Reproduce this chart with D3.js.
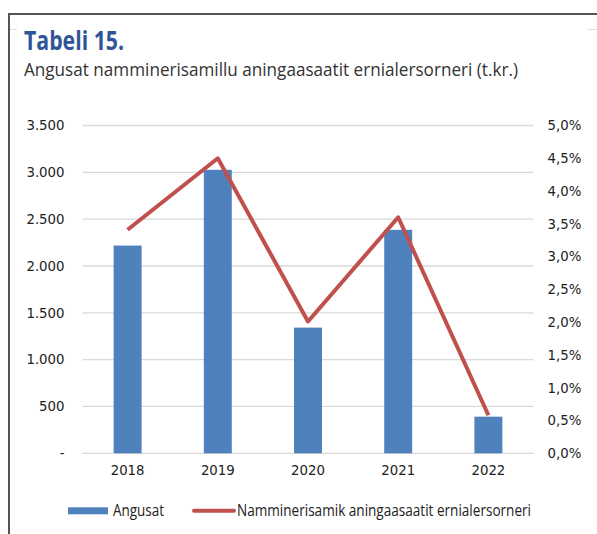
<!DOCTYPE html>
<html>
<head>
<meta charset="utf-8">
<script src="https://cdn.jsdelivr.net/npm/d3@7"></script>
<style>
body { margin: 0; background: #fff; }
svg { display: block; }
.tick text { font-family: "DejaVu Sans", sans-serif; font-size: 13.3px; fill: #222; }
</style>
</head>
<body>
<script>
//chart data
var years = ["2018", "2019", "2020", "2021", "2022"];
var angusat = [2218, 3027, 1342, 2386, 391];
var procent = [0.0341, 0.0450, 0.0201, 0.0360, 0.0058];
var leftTicks = [0, 500, 1000, 1500, 2000, 2500, 3000, 3500];
var rightTicks = [0, 0.005, 0.01, 0.015, 0.02, 0.025, 0.03, 0.035, 0.04, 0.045, 0.05];

var width = 597, height = 534;

var svg = d3.select("body").append("svg")
    .attr("width", width)
    .attr("height", height);

//frame lines
svg.append("line").attr("x1", 9).attr("x2", width).attr("y1", 14).attr("y2", 14)
    .attr("stroke", "#555").attr("stroke-width", 2);
svg.append("line").attr("x1", 9).attr("x2", 9).attr("y1", 13).attr("y2", height)
    .attr("stroke", "#555").attr("stroke-width", 2);
svg.append("line").attr("x1", 10).attr("x2", 17).attr("y1", 29.5).attr("y2", 29.5)
    .attr("stroke", "#ddd").attr("stroke-width", 1);
svg.append("line").attr("x1", 588).attr("x2", width).attr("y1", 29.5).attr("y2", 29.5)
    .attr("stroke", "#ddd").attr("stroke-width", 1);

//title
svg.append("text")
    .attr("x", 24).attr("y", 50)
    .attr("font-family", "'Open Sans', sans-serif")
    .attr("font-weight", "bold")
    .attr("font-size", 27)
    .attr("fill", "#2F5597")
    .attr("textLength", 100)
    .attr("lengthAdjust", "spacingAndGlyphs")
    .text("Tabeli 15.");

svg.append("text")
    .attr("x", 24).attr("y", 76)
    .attr("font-family", "'Open Sans', sans-serif")
    .attr("font-size", 19)
    .attr("fill", "#333")
    .attr("textLength", 494)
    .attr("lengthAdjust", "spacingAndGlyphs")
    .text("Angusat namminerisamillu aningaasaatit ernialersorneri (t.kr.)");

//scales
var x = d3.scaleBand()
    .domain(years)
    .range([82.5, 533.5])
    .paddingInner(0.69)
    .paddingOuter(0.345);

var yLeft = d3.scaleLinear().domain([0, 3500]).range([453.3, 125.5]);
var yRight = d3.scaleLinear().domain([0, 0.05]).range([453.3, 125.5]);

//gridlines
svg.append("g")
    .selectAll("line")
    .data(leftTicks)
    .enter()
    .append("line")
    .attr("x1", 82.5).attr("x2", 533.5)
    .attr("y1", function(d){ return yLeft(d); })
    .attr("y2", function(d){ return yLeft(d); })
    .attr("stroke", "#d9d9d9")
    .attr("stroke-width", 1.3);

//left axis
var leftAxis = svg.append("g")
    .attr("transform", "translate(82.5,0)")
    .call(d3.axisLeft(yLeft).tickValues(leftTicks).tickSize(0).tickPadding(18)
        .tickFormat(function(d){ return d === 0 ? "-" : d3.format(",")(d).replace(/,/g, "."); }));
leftAxis.select(".domain").remove();

//right axis
var rightAxis = svg.append("g")
    .attr("transform", "translate(533.5,0)")
    .call(d3.axisRight(yRight).tickValues(rightTicks).tickSize(0).tickPadding(14)
        .tickFormat(function(d){ return d3.format(".1%")(d).replace(".", ","); }));
rightAxis.select(".domain").remove();

//bottom axis
var bottomAxis = svg.append("g")
    .attr("transform", "translate(0,453.3)")
    .call(d3.axisBottom(x).tickSize(0).tickPadding(12));
bottomAxis.select(".domain").remove();

//bars
svg.append("g")
    .selectAll("rect")
    .data(angusat)
    .enter()
    .append("rect")
    .attr("x", function(d, i){ return x(years[i]); })
    .attr("width", x.bandwidth())
    .attr("y", function(d){ return yLeft(d); })
    .attr("height", function(d){ return yLeft(0) - yLeft(d); })
    .attr("fill", "#4F81BD");

//line
var line = d3.line()
    .x(function(d, i){ return x(years[i]) + x.bandwidth() / 2; })
    .y(function(d){ return yRight(d); });

svg.append("path")
    .datum(procent)
    .attr("d", line)
    .attr("fill", "none")
    .attr("stroke", "#C0504D")
    .attr("stroke-width", 4)
    .attr("stroke-linejoin", "round");

//legend
svg.append("rect")
    .attr("x", 68).attr("y", 507.3)
    .attr("width", 40).attr("height", 7)
    .attr("fill", "#4F81BD");
svg.append("text")
    .attr("x", 113).attr("y", 516)
    .attr("font-family", "'Open Sans', sans-serif")
    .attr("font-size", 16.5)
    .attr("fill", "#222")
    .attr("textLength", 51)
    .attr("lengthAdjust", "spacingAndGlyphs")
    .text("Angusat");
svg.append("line")
    .attr("x1", 194).attr("x2", 234)
    .attr("y1", 510.7).attr("y2", 510.7)
    .attr("stroke", "#C0504D")
    .attr("stroke-width", 4)
    .attr("stroke-linecap", "round");
svg.append("text")
    .attr("x", 237).attr("y", 516)
    .attr("font-family", "'Open Sans', sans-serif")
    .attr("font-size", 16.5)
    .attr("fill", "#222")
    .attr("textLength", 294)
    .attr("lengthAdjust", "spacingAndGlyphs")
    .text("Namminerisamik aningaasaatit ernialersorneri");
</script>
</body>
</html>
